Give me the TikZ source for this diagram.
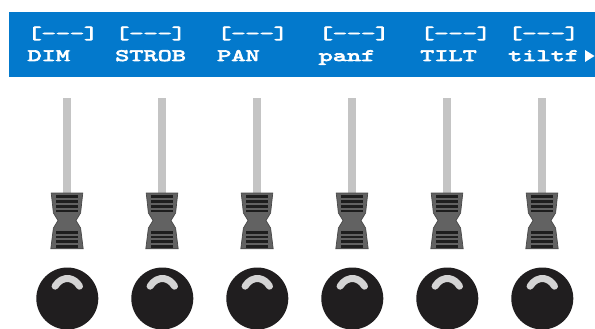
\documentclass[tikz,border=0pt]{standalone}
\usepackage{fontspec}
\newfontfamily\lcdfont{lmmono10-regular.otf}[FakeStretch=1.55,FakeBold=4]
\definecolor{panelblue}{RGB}{3,121,204}
\definecolor{stemgray}{RGB}{196,196,196}
\definecolor{capgray}{RGB}{98,98,98}
\definecolor{capedge}{RGB}{72,72,72}
\definecolor{ridgeblack}{RGB}{30,30,30}
\definecolor{knobblack}{RGB}{32,30,31}
\definecolor{shinegray}{RGB}{212,212,212}

\begin{document}
\begin{tikzpicture}[
    x=1pt, y=-1pt,
    lcd/.style={anchor=base west, inner sep=0pt, text=white,
        font={\fontsize{17.4}{20}\selectfont\lcdfont}},
    stem/.style={fill=stemgray},
    capbody/.style={fill=capgray, draw=capedge, line width=0.7pt},
    ridge/.style={fill=ridgeblack},
    knob/.style={circle, fill=knobblack, minimum size=62pt, inner sep=0pt},
    shine/.style={draw=shinegray, line width=7pt, line cap=round},
]
    \useasboundingbox[fill=white] (0,0) rectangle (595,329);

    % Display bar
    \fill[panelblue] (9,12) rectangle (595,77.5);
    \foreach \lx/\txt [count=\i] in {27.3/DIM, 115/STROB, 217/PAN, 318.5/panf, 420/TILT, 508/tiltf} {
        \node[lcd] (rng\i) at (\lx,38.8) {[-\kern0pt-\kern0pt-]};
        \node[lcd] (lbl\i) at (\lx,61) {\txt};
    }
    \fill[white] (585,50) -- (594.5,56) -- (585,62) -- cycle;

    % Faders
    \foreach \cx [count=\i] in {67,162,257,352,447,542} {
        \begin{scope}[shift={(\cx,0)}]
            \fill[stem] (-3.7,98) rectangle (3.7,194);
            \draw[capbody] (-15.8,193) -- (15.8,193) -- (13.6,213) -- (9,220.5)
                -- (13.6,228) -- (16.2,248.8) -- (-16.2,248.8) -- (-13.6,228)
                -- (-9,220.5) -- (-13.6,213) -- cycle;
            \foreach \s in {196.2,201.3,206.2,211,232.3,236.9,241.4,246.2}
                \fill[ridge] (-11,\s-1.3) rectangle (11,\s+1.3);
        \end{scope}
        % Knob
        \node[knob] (knob\i) at (\cx+0.3,298.5) {};
        \draw[shine] (\cx+0.3,298.5) ++(218:15.5 and 20) arc[start angle=218, end angle=322, x radius=15.5, y radius=20];
    }
\end{tikzpicture}
\end{document}
